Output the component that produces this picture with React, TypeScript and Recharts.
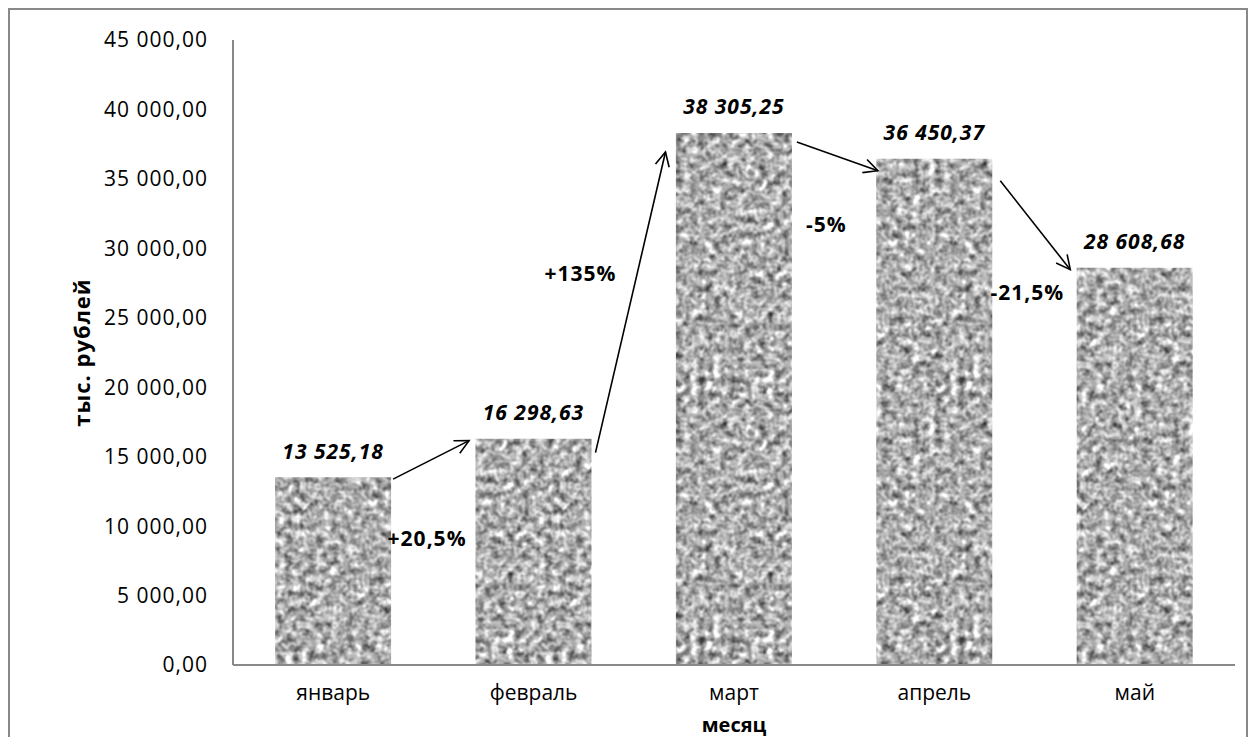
import React from 'react';
import { BarChart, Bar, XAxis, YAxis, LabelList, Label } from 'recharts';

const months = ['январь', 'февраль', 'март', 'апрель', 'май'];
const revenue = [13525.18, 16298.63, 38305.25, 36450.37, 28608.68];
const changes = ['+20,5%', '+135%', '-5%', '-21,5%'];
const yTicks = [0, 5000, 10000, 15000, 20000, 25000, 30000, 35000, 40000, 45000];

const chartData = months.map((month, i) => ({ month, revenue: revenue[i] }));

const FONT = '"Open Sans", sans-serif';
const GAP = 0.21;

// hand placed arrows and change labels, offsets relative to the bars they join
const arrowTweaks = [
  { sx: 2, sy: 2, ex: -6, ey: 2, lx: -4, ly: 79 },
  { sx: 4, sy: 14, ex: -10, ey: 19, lx: -50, ly: -29 },
  { sx: 5, sy: 9, ex: 2, ey: 12, lx: -11, ly: 68 },
  { sx: 8, sy: 22, ex: -6, ey: 2, lx: -8, ly: 67 },
];

const fmt = (v: number) => {
  const [int, dec] = v.toFixed(2).split('.');
  return int.replace(/\B(?=(\d{3})+(?!\d))/g, ' ') + ',' + dec;
};

const fmtTick = (v: number) => fmt(v);

const BarNotes = (props: any) => {
  const vb = props.viewBox || props;
  const x = Number(vb.x);
  const y = Number(vb.y);
  const width = Number(vb.width);
  const height = Number(vb.height);
  const index = props.index as number;
  const value = revenue[index];
  const base = y + height;
  const perUnit = height / value;
  const band = width / (1 - 2 * GAP);
  const next = index < revenue.length - 1 ? revenue[index + 1] : null;

  let arrow = null;
  if (next !== null) {
    const t = arrowTweaks[index];
    const x1 = x + width + t.sx;
    const y1 = y + t.sy;
    const x2 = x + band + t.ex;
    const y2 = base - next * perUnit + t.ey;
    const mx = (x1 + x2) / 2;
    const my = (y1 + y2) / 2;
    arrow = (
      <g>
        <line x1={x1} y1={y1} x2={x2} y2={y2} stroke="#000" strokeWidth={1.6} markerEnd="url(#arrowHead)" />
        <text
          x={mx + t.lx}
          y={my + t.ly}
          dy="0.35em"
          textAnchor="middle"
          fontFamily={FONT}
          fontWeight={700}
          fontSize={21}
          letterSpacing={1}
          fill="#000"
        >
          {changes[index]}
        </text>
      </g>
    );
  }

  return (
    <g>
      <text
        x={x + width / 2}
        y={y - 26}
        dy="0.35em"
        textAnchor="middle"
        fontFamily={FONT}
        fontWeight={700}
        fontStyle="italic"
        fontSize={21}
        letterSpacing={1}
        fill="#000"
      >
        {fmt(value)}
      </text>
      {arrow}
    </g>
  );
};

export default function App() {
  return (
    <div style={{ width: 1236, height: 740, border: '2px solid #898989', background: '#fff' }}>
      <BarChart
        width={1236}
        height={740}
        data={chartData}
        margin={{ top: 30, right: 11, bottom: 35, left: 0 }}
        barCategoryGap={`${GAP * 100}%`}
      >
        <defs>
          <filter id="granite" x="0" y="0" width="100%" height="100%" colorInterpolationFilters="sRGB">
            <feTurbulence type="fractalNoise" baseFrequency="0.13" numOctaves={2} seed={11} stitchTiles="stitch" />
            <feColorMatrix
              type="matrix"
              values="0.62 0.62 0.62 0 -0.25  0.62 0.62 0.62 0 -0.25  0.62 0.62 0.62 0 -0.25  0 0 0 0 1"
            />
          </filter>
          <pattern id="granitePattern" patternUnits="userSpaceOnUse" width={260} height={260}>
            <rect width={260} height={260} fill="#a8a8a8" filter="url(#granite)" />
          </pattern>
          <marker
            id="arrowHead"
            markerUnits="userSpaceOnUse"
            markerWidth={18}
            markerHeight={18}
            viewBox="0 0 18 18"
            refX={16}
            refY={9}
            orient="auto"
          >
            <path d="M2,2 L16,9 L2,16" fill="none" stroke="#000" strokeWidth={1.6} />
          </marker>
        </defs>
        <XAxis
          dataKey="month"
          height={50}
          tickLine={false}
          tickSize={0}
          tickMargin={20}
          axisLine={{ stroke: '#898989', strokeWidth: 2 }}
          tick={{ fontFamily: FONT, fontSize: 21, fill: '#000' }}
          interval={0}
        >
          <Label
            content={(p: any) => {
              const vb = p.viewBox;
              return (
                <text
                  x={vb.x + vb.width / 2}
                  y={vb.y + vb.height + 17}
                  textAnchor="middle"
                  fontFamily={FONT}
                  fontWeight={700}
                  fontSize={20}
                  fill="#000"
                >
                  месяц
                </text>
              );
            }}
          />
        </XAxis>
        <YAxis
          width={223}
          domain={[0, 45000]}
          ticks={yTicks}
          interval={0}
          tickFormatter={fmtTick}
          tickLine={false}
          tickSize={0}
          tickMargin={25}
          axisLine={{ stroke: '#898989', strokeWidth: 2 }}
          tick={{ fontFamily: FONT, fontSize: 21, fill: '#000', letterSpacing: 1 }}
        >
          <Label
            content={(p: any) => {
              const vb = p.viewBox;
              const cy = vb.y + vb.height / 2;
              return (
                <text
                  x={72}
                  y={cy}
                  dy="0.35em"
                  textAnchor="middle"
                  transform={`rotate(-90 72 ${cy})`}
                  fontFamily={FONT}
                  fontWeight={700}
                  fontSize={22}
                  letterSpacing={1}
                  fill="#000"
                >
                  тыс. рублей
                </text>
              );
            }}
          />
        </YAxis>
        <Bar dataKey="revenue" fill="url(#granitePattern)" isAnimationActive={false}>
          <LabelList dataKey="revenue" content={BarNotes} />
        </Bar>
      </BarChart>
    </div>
  );
}
